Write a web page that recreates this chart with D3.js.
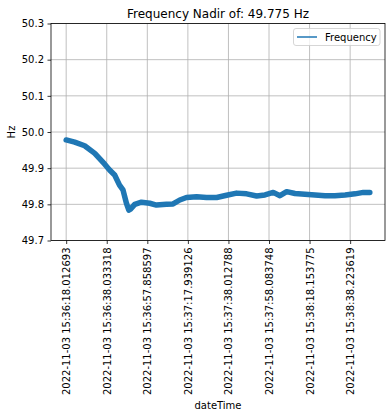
<!DOCTYPE html>
<html><head><meta charset="utf-8">
<script src="https://cdn.jsdelivr.net/npm/d3@7"></script>
<style>body{margin:0;background:#fff}svg{display:block}svg text{font-family:"DejaVu Sans",sans-serif}</style>
</head><body><svg id="c" width="392" height="416"></svg>
<script>
// seconds since first tick, frequency (Hz)
const times = [0,4.2,9.1,14.1,19.0,21.4,23.9,26.3,28.0,29.7,30.9,31.6,33.8,37.1,41.2,44.5,49.4,52.7,56.0,59.3,64.3,69.2,74.2,79.1,84.0,89.0,93.9,98.0,102.1,105.4,108.7,112.8,117.7,122.7,127.6,132.5,137.5,142.4,146.5,149.7];
const freq  = [49.978,49.972,49.962,49.941,49.911,49.895,49.881,49.853,49.840,49.803,49.784,49.786,49.800,49.806,49.803,49.798,49.800,49.801,49.812,49.819,49.821,49.819,49.819,49.825,49.831,49.829,49.823,49.826,49.833,49.824,49.835,49.830,49.828,49.826,49.824,49.824,49.826,49.829,49.833,49.833];
const tickPos = [0,20,40,60,80,100,120,140];
const tickLabels = ["2022-11-03 15:36:18.012693","2022-11-03 15:36:38.033318","2022-11-03 15:36:57.858597","2022-11-03 15:37:17.939126","2022-11-03 15:37:38.012788","2022-11-03 15:37:58.083748","2022-11-03 15:38:18.153775","2022-11-03 15:38:38.223619"];
const yTicks = [49.7,49.8,49.9,50.0,50.1,50.2,50.3];
const title = "Frequency Nadir of: 49.775 Hz";

const svg = d3.select("#c");
const L=51, R=385, T=23.5, B=240.5;
const tMax = d3.max(times), pad = tMax*0.05;
const x = d3.scaleLinear().domain([-pad, tMax+pad]).range([L,R]);
const y = d3.scaleLinear().domain([49.7,50.3]).range([B,T]);

// grid
const g = svg.append("g");
g.selectAll(".gx").data(tickPos).join("line")
 .attr("x1",d=>x(d)).attr("x2",d=>x(d)).attr("y1",T).attr("y2",B)
 .attr("stroke","#b0b0b0").attr("stroke-width",0.8);
g.selectAll(".gy").data(yTicks).join("line")
 .attr("x1",L).attr("x2",R).attr("y1",d=>y(d)).attr("y2",d=>y(d))
 .attr("stroke","#b0b0b0").attr("stroke-width",0.8);

// line
const data = times.map((t,i)=>[t,freq[i]]);
svg.append("path").datum(data)
 .attr("d", d3.line().x(d=>x(d[0])).y(d=>y(d[1])))
 .attr("fill","none").attr("stroke","#1f77b4").attr("stroke-width",5.5)
 .attr("stroke-linejoin","round").attr("stroke-linecap","round");

// axes
const xa = svg.append("g").attr("transform",`translate(0,${B})`)
 .call(d3.axisBottom(x).tickValues(tickPos).tickFormat((d,i)=>tickLabels[i]).tickSizeOuter(0).tickSize(3.5).tickPadding(3.5));
xa.attr("font-family",null).attr("font-size",null);
xa.select(".domain").remove();
xa.selectAll("line").attr("stroke","#000").attr("stroke-width",0.8);
xa.selectAll("text").attr("font-size",10).attr("fill","#000")
 .attr("transform","rotate(-90)").attr("text-anchor","end")
 .attr("x",-7).attr("y",0).attr("dy","0.35em");

const ya = svg.append("g").attr("transform",`translate(${L},0)`)
 .call(d3.axisLeft(y).tickValues(yTicks).tickFormat(d3.format(".1f")).tickSizeOuter(0).tickSize(3.5).tickPadding(3.5));
ya.attr("font-family",null).attr("font-size",null);
ya.select(".domain").remove();
ya.selectAll("line").attr("stroke","#000").attr("stroke-width",0.8);
ya.selectAll("text").attr("font-size",10).attr("fill","#000");

// spines
svg.append("rect").attr("x",L).attr("y",T).attr("width",R-L).attr("height",B-T)
 .attr("fill","none").attr("stroke","#000").attr("stroke-width",0.8);

// title & labels
svg.append("text").attr("x",(L+R)/2).attr("y",T-6).attr("text-anchor","middle")
 .attr("font-size",12).text(title);
svg.append("text").attr("x",(L+R)/2).attr("y",409).attr("text-anchor","middle")
 .attr("font-size",10).text("dateTime");
svg.append("text").attr("transform",`translate(15,${(T+B)/2}) rotate(-90)`).attr("text-anchor","middle")
 .attr("font-size",10).text("Hz");

// legend
const lg = svg.append("g");
lg.append("rect").attr("x",293.5).attr("y",28.5).attr("width",86.5).attr("height",17).attr("rx",2.5)
 .attr("fill","#fff").attr("fill-opacity",0.8).attr("stroke","#cccccc").attr("stroke-width",0.8);
lg.append("line").attr("x1",297).attr("x2",317).attr("y1",37).attr("y2",37)
 .attr("stroke","#1f77b4").attr("stroke-width",1.5);
lg.append("text").attr("x",325).attr("y",37).attr("dy","0.35em").attr("font-size",10).text("Frequency");
</script></body></html>
